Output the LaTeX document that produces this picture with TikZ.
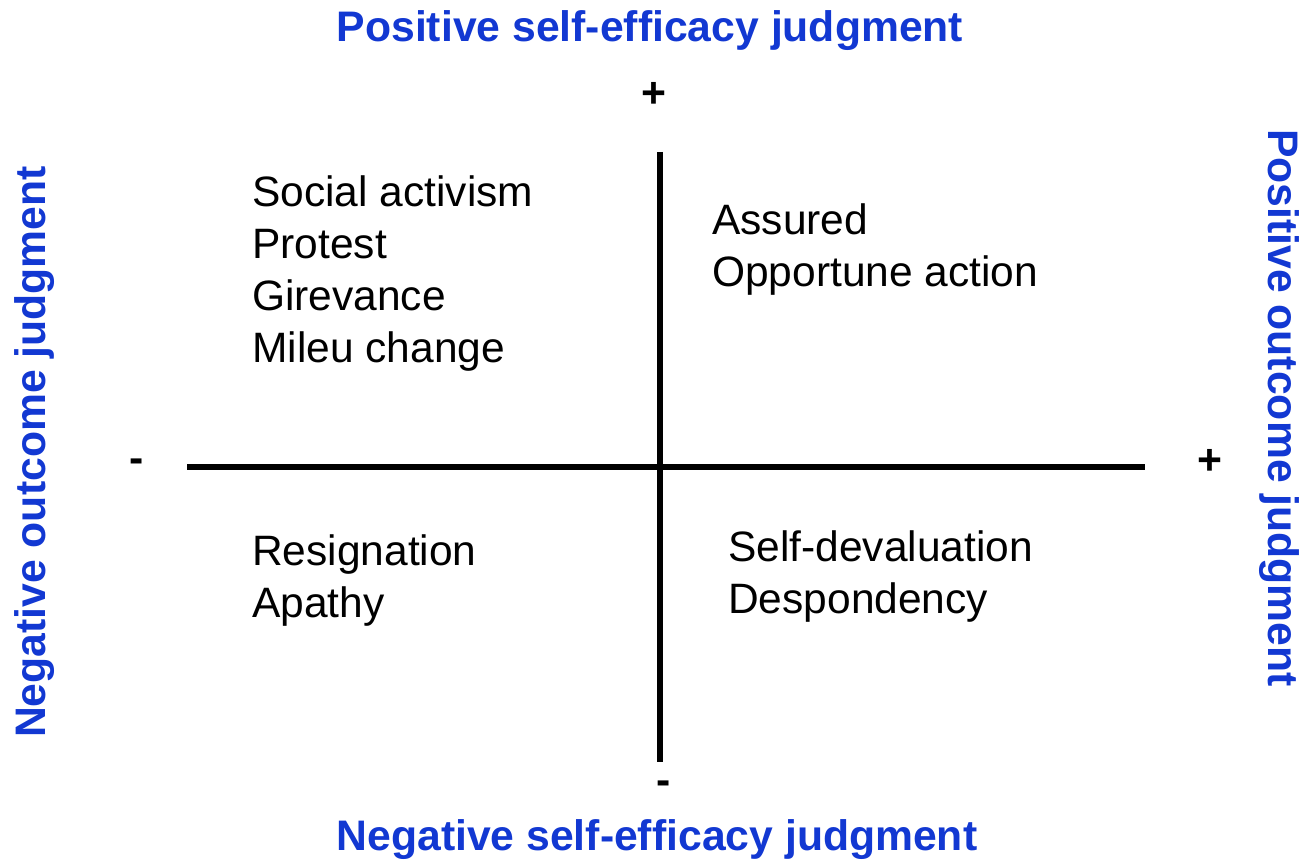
\documentclass[tikz,border=0pt]{standalone}
\usepackage{fontspec}
\setmainfont{Liberation Sans}
\definecolor{titleblue}{RGB}{18,56,210}
\tikzset{
  axis/.style={line width=5.5pt, black},
  body/.style={font=\fontsize{42.5}{52}\selectfont, align=left, inner sep=0pt, anchor=base west},
  title/.style={font=\fontsize{42.7}{48}\selectfont\bfseries, text=titleblue, inner sep=0pt, anchor=base},
  vtitle/.style={font=\fontsize{42.7}{48}\selectfont\bfseries, text=titleblue, inner sep=0pt, anchor=base},
  sign/.style={font=\fontsize{42.7}{48}\selectfont\bfseries, inner sep=0pt}
}
\begin{document}
\begin{tikzpicture}[x=1pt, y=-1pt]
\useasboundingbox (0,0) rectangle (1304,861);
% axes
\coordinate (vt) at (660,152);
\coordinate (vb) at (660,762);
\coordinate (hl) at (187,467);
\coordinate (hr) at (1145,467);
\draw[axis] (vt) -- (vb);
\draw[axis] (hl) -- (hr);
% signs
\node[sign] (ptop) at (654,95) {+};
\node[sign] (mbot) at (664,788) {-};
\node[sign] (mleft) at (137,466) {-};
\node[sign] (pright) at (1210,462) {+};
% titles
\node[title] (ttop) at (650,42) {Positive self-efficacy judgment};
\node[title] (tbot) at (657,850) {Negative self-efficacy judgment};
\node[vtitle, rotate=90] (tleft) at (45,452) {Negative outcome judgment};
\node[vtitle, rotate=-90] (tright) at (1268,408) {Positive outcome judgment};
% quadrant texts (base anchor = baseline of last line)
\node[body] (ql) at (252,362) {Social activism\\Protest\\Girevance\\Mileu change};
\node[body] (qr) at (712,287) {Assured\\Opportune action};
\node[body] (bl) at (252,617) {Resignation\\Apathy};
\node[body] (br) at (728,613) {Self-devaluation\\Despondency};
\end{tikzpicture}
\end{document}
